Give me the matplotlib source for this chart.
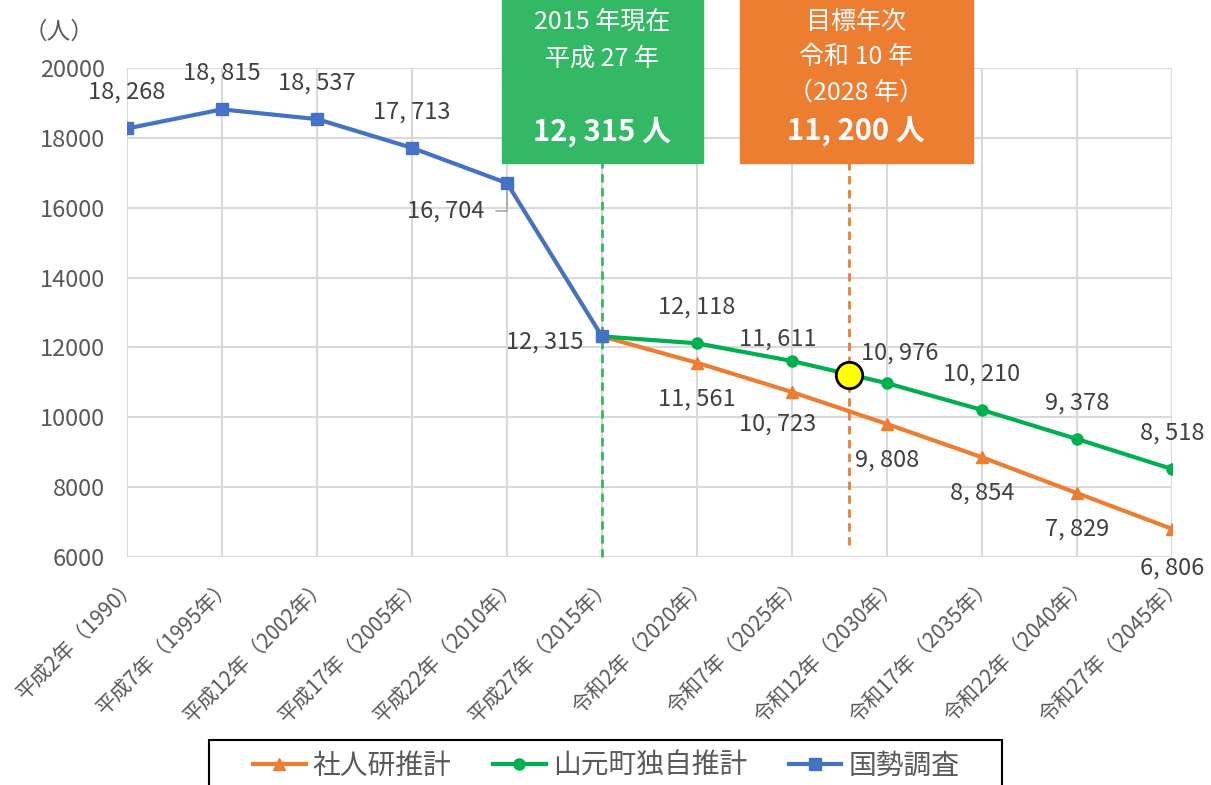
import matplotlib.pyplot as plt
from matplotlib.patches import Rectangle

plt.rcParams['font.family'] = ['Noto Sans CJK JP', 'DejaVu Sans']

# data
categories = ['平成2年（1990）', '平成7年（1995年）', '平成12年（2002年）', '平成17年（2005年）',
              '平成22年（2010年）', '平成27年（2015年）', '令和2年（2020年）', '令和7年（2025年）',
              '令和12年（2030年）', '令和17年（2035年）', '令和22年（2040年）', '令和27年（2045年）']
census = [18268, 18815, 18537, 17713, 16704, 12315]
town_est = [12315, 12118, 11611, 10976, 10210, 9378, 8518]
ipss_est = [12315, 11561, 10723, 9808, 8854, 7829, 6806]
target_year, target_value = 2028, 11200
base_year, base_value = 2015, 12315

BLUE = '#4472C4'
ORANGE = '#ED7D31'
GREEN = '#00B050'
BOX_GREEN = '#33B966'
GRID = '#D9D9D9'
TXT = '#404040'

W, H = 1211, 785
fig = plt.figure(figsize=(W / 100, H / 100), dpi=100)
ax = fig.add_axes([127 / W, 1 - 557 / H, (1172 - 127) / W, (557 - 68) / H])

x_census = list(range(len(census)))
x_proj = list(range(5, 5 + len(town_est)))

ax.plot(x_proj, ipss_est, color=ORANGE, lw=3, marker='^', ms=10, label='社人研推計', zorder=3)
ax.plot(x_proj, town_est, color=GREEN, lw=3, marker='o', ms=9, label='山元町独自推計', zorder=3)
ax.plot(x_census, census, color=BLUE, lw=3, marker='s', ms=9, label='国勢調査', zorder=4)

# x position of a year between 5-year categories (2015 -> index 5)
def year_x(y):
    return 5 + (y - 2015) / 5

ax.plot([year_x(base_year)] * 2, [6000, 20000], color=BOX_GREEN, lw=2, ls=(0, (3, 2)),
        clip_on=False, zorder=2)
ax.plot([year_x(target_year)] * 2, [6350, 20000], color=ORANGE, lw=2, ls=(0, (3, 2)),
        clip_on=False, zorder=2)
ax.plot([year_x(target_year)], [target_value], marker='o', ms=19, mfc='#FFFF00',
        mec='black', mew=2, zorder=6)

ax.set_xlim(0, 11)
ax.set_ylim(6000, 20000)
ax.set_yticks(range(6000, 20001, 2000))
ax.set_xticks(range(len(categories)))
ax.set_xticklabels(categories, rotation=45, ha='right', rotation_mode='anchor')
ax.tick_params(axis='both', length=0, labelcolor='#595959', labelsize=15)
ax.tick_params(axis='y', pad=16, labelsize=17)
ax.tick_params(axis='x', pad=12)
ax.grid(True, color=GRID, lw=1.5)
ax.set_axisbelow(True)
for s in ax.spines.values():
    s.set_visible(False)

def fmt(v):
    return f'{v:,}'.replace(',', ', ')

lab_kw = dict(textcoords='offset points', fontsize=17, color=TXT, va='center')
for i, v in enumerate(census):
    if i == 4:
        ax.annotate(fmt(v), (i, v), xytext=(-16, -20), ha='right',
                    arrowprops=dict(arrowstyle='-', color='#A6A6A6', lw=1.2, shrinkA=6,
                                    shrinkB=5, connectionstyle='angle,angleA=0,angleB=90,rad=0'),
                    **lab_kw)
    elif i == 5:
        ax.annotate(fmt(v), (i, v), xytext=(-13, -4), ha='right', **lab_kw)
    else:
        ax.annotate(fmt(v), (i, v), xytext=(0, 26), ha='center', **lab_kw)

town_off = {7: (-10, 16), 8: (9, 22)}
for i, v in zip(x_proj[1:], town_est[1:]):
    ax.annotate(fmt(v), (i, v), xytext=town_off.get(i, (0, 26)), ha='center', **lab_kw)
ipss_off = {7: (-10, -23), 11: (0, -28)}
for i, v in zip(x_proj[1:], ipss_est[1:]):
    ax.annotate(fmt(v), (i, v), xytext=ipss_off.get(i, (0, -26)), ha='center', **lab_kw)

# unit label
fig.text(24 / W, 1 - 32 / H, '（人）', fontsize=17, color='#595959', va='center', ha='left')

# annotation boxes
fig.patches.append(Rectangle((502 / W, 1 - 163 / H), 201 / W, 163 / H,
                             transform=fig.transFigure, color=BOX_GREEN, zorder=1))
fig.patches.append(Rectangle((740 / W, 1 - 163 / H), 233 / W, 163 / H,
                             transform=fig.transFigure, color=ORANGE, zorder=1))

cx = 602 / W
fig.text(cx, 1 - 22 / H, '2015 年現在', color='white', fontsize=18, ha='center', va='center')
fig.text(cx, 1 - 59 / H, '平成 27 年', color='white', fontsize=18, ha='center', va='center')
fig.text(cx, 1 - 132 / H, fmt(base_value) + ' 人', color='white', fontsize=21,
         fontweight='bold', ha='center', va='center')
cx = 856 / W
fig.text(cx, 1 - 22 / H, '目標年次', color='white', fontsize=18, ha='center', va='center')
fig.text(cx, 1 - 57 / H, '令和 10 年', color='white', fontsize=18, ha='center', va='center')
fig.text(cx, 1 - 93 / H, '（2028 年）', color='white', fontsize=18, ha='center', va='center')
fig.text(cx, 1 - 131 / H, fmt(target_value) + ' 人', color='white', fontsize=21,
         fontweight='bold', ha='center', va='center')

# legend (frame drawn separately)
handles, labels = ax.get_legend_handles_labels()
for h in handles:
    h.set_markersize(8)
leg = fig.legend(handles, labels, loc='center', bbox_to_anchor=(606 / W, 1 - 766 / H),
                 ncol=3, frameon=False, fontsize=20, handlelength=1.9, handletextpad=0.25,
                 columnspacing=1.5, labelcolor='#595959')
fig.patches.append(Rectangle((209 / W, 1 - 795 / H), (1002 - 209) / W, (795 - 740) / H,
                             transform=fig.transFigure, fill=False, ec='black', lw=1.5,
                             zorder=1))

fig.savefig('out.png', dpi=100)
